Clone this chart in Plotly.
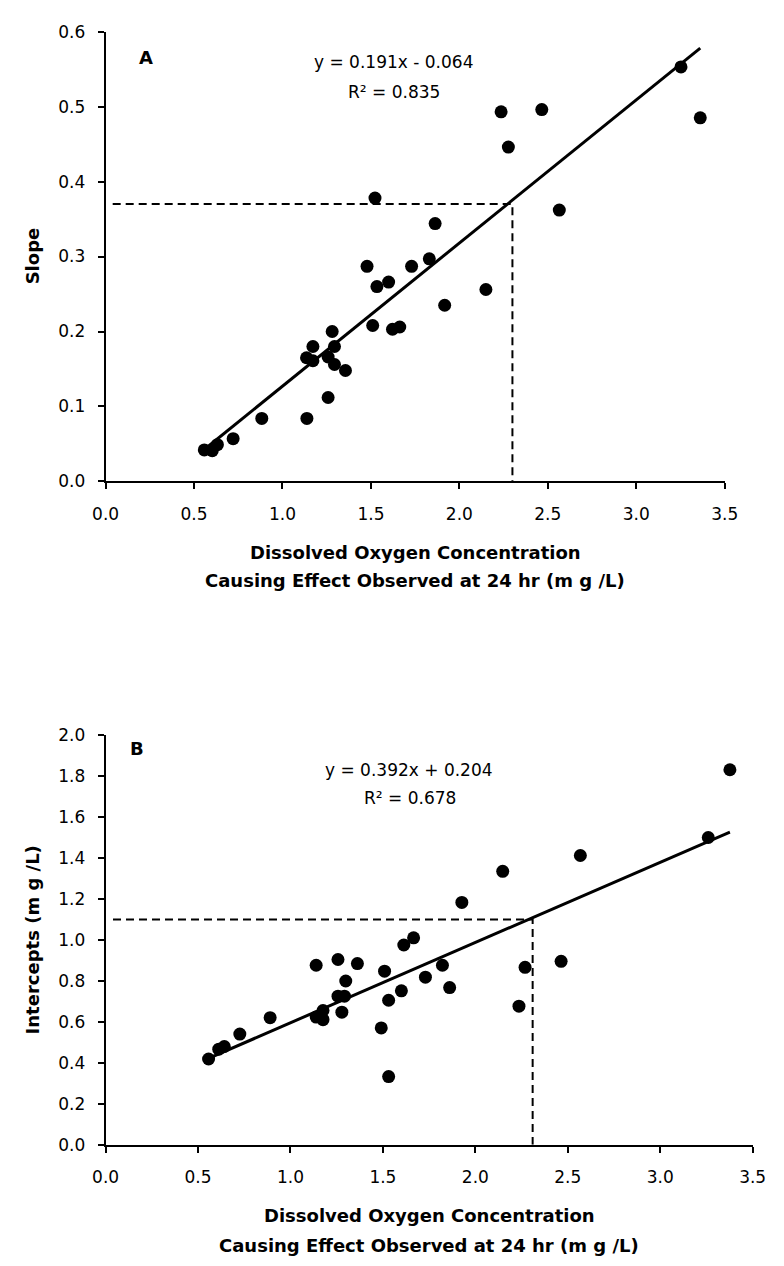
import plotly.graph_objects as go

# ---------------- Data ----------------
# Panel A: slope vs dissolved oxygen concentration
a_do = [0.558, 0.603, 0.632, 0.721, 0.883, 1.138, 1.258, 1.136, 1.172, 1.172, 1.258,
        1.281, 1.294, 1.294, 1.356, 1.478, 1.534, 1.600, 1.510, 1.622, 1.663, 1.730,
        1.830, 1.917, 2.150, 1.863, 2.236, 2.466, 2.277, 2.565, 3.253, 3.362, 1.523]
a_slope = [0.042, 0.041, 0.049, 0.057, 0.084, 0.084, 0.112, 0.165, 0.161, 0.180, 0.166,
           0.200, 0.180, 0.156, 0.148, 0.287, 0.260, 0.266, 0.208, 0.203, 0.206, 0.287,
           0.297, 0.235, 0.256, 0.344, 0.493, 0.496, 0.446, 0.362, 0.553, 0.485, 0.378]
a_fit = (0.191, -0.064)          # slope, intercept of regression
a_r2 = 0.835
a_ref = (2.30, 0.370)            # dashed reference point

# Panel B: intercepts vs dissolved oxygen concentration
b_do = [0.557, 0.612, 0.642, 0.726, 0.890, 1.139, 1.139, 1.176, 1.176, 1.257, 1.257,
        1.292, 1.278, 1.299, 1.362, 1.491, 1.509, 1.531, 1.531, 1.600, 1.613, 1.666,
        1.730, 1.822, 1.861, 1.927, 2.148, 2.269, 2.236, 2.464, 2.568, 3.260, 3.377]
b_int = [0.419, 0.467, 0.480, 0.541, 0.621, 0.624, 0.877, 0.656, 0.611, 0.905, 0.726,
         0.726, 0.648, 0.800, 0.885, 0.571, 0.848, 0.706, 0.333, 0.752, 0.976, 1.011,
         0.819, 0.877, 0.768, 1.184, 1.336, 0.867, 0.677, 0.896, 1.413, 1.501, 1.832]
b_fit = (0.392, 0.204)
b_r2 = 0.678
b_ref = (2.31, 1.10)

x_ticks = [0.0, 0.5, 1.0, 1.5, 2.0, 2.5, 3.0, 3.5]
a_yticks = [0.0, 0.1, 0.2, 0.3, 0.4, 0.5, 0.6]
b_yticks = [0.0, 0.2, 0.4, 0.6, 0.8, 1.0, 1.2, 1.4, 1.6, 1.8, 2.0]

x_title_1 = "Dissolved Oxygen Concentration"
x_title_2 = "Causing Effect Observed at 24 hr (m g /L)"
a_ytitle = "Slope"
b_ytitle = "Intercepts (m g /L)"

# ---------------- Figure ----------------
W, H = 784, 1266
FONT = "DejaVu Sans"
fig = go.Figure()


def add_panel(xs, ys, fit, ref, xa, ya):
    xref = "x" if xa == 1 else f"x{xa}"
    yref = "y" if ya == 1 else f"y{ya}"
    fig.add_trace(go.Scatter(x=xs, y=ys, mode="markers", xaxis=xref, yaxis=yref,
                             marker=dict(color="black", size=13), showlegend=False))
    lx = [min(xs), max(xs)]
    ly = [fit[0] * v + fit[1] for v in lx]
    fig.add_trace(go.Scatter(x=lx, y=ly, mode="lines", xaxis=xref, yaxis=yref,
                             line=dict(color="black", width=3), showlegend=False))
    # dashed reference lines
    fig.add_trace(go.Scatter(x=[0.04, ref[0], ref[0]], y=[ref[1], ref[1], 0],
                             mode="lines", xaxis=xref, yaxis=yref,
                             line=dict(color="black", width=2, dash="8px,5px"),
                             showlegend=False))


add_panel(a_do, a_slope, a_fit, a_ref, 1, 1)
add_panel(b_do, b_int, b_fit, b_ref, 2, 2)

# plot-area pixel boxes
A_box = (95, 737, 22, 479)     # left, right, top, bottom
B_box = (95, 766, 737, 1153)


def dom_x(box):
    return [box[0] / W, box[1] / W]


def dom_y(box):
    return [1 - box[3] / H, 1 - box[2] / H]


axis_common = dict(showline=True, linecolor="black", linewidth=2, ticks="outside",
                   tickcolor="black", tickwidth=2, ticklen=6, showgrid=False,
                   zeroline=False, tickfont=dict(family=FONT, size=17, color="black"),
                   tickformat=".1f")

fig.update_layout(
    width=W, height=H, margin=dict(l=0, r=0, t=0, b=0),
    paper_bgcolor="white", plot_bgcolor="white",
    font=dict(family=FONT, color="black"),
    xaxis=dict(domain=dom_x(A_box), range=[0, 3.5], tickvals=x_ticks, anchor="y",
               ticklabelstandoff=10, **axis_common),
    yaxis=dict(domain=dom_y(A_box), range=[0, 0.6], tickvals=a_yticks, anchor="x",
               ticklabelstandoff=9, **axis_common),
    xaxis2=dict(domain=dom_x(B_box), range=[0, 3.5], tickvals=x_ticks, anchor="y2",
                ticklabelstandoff=10, **axis_common),
    yaxis2=dict(domain=dom_y(B_box), range=[0, 2.0], tickvals=b_yticks, anchor="x2",
                ticklabelstandoff=9, **axis_common),
)

ann = []
bold = dict(family=FONT, size=18, color="black", weight="bold")
reg = dict(family=FONT, size=17, color="black")

# panel letters and equations (data coords)
ann.append(dict(xref="x", yref="y", x=0.229, y=0.566, text="A", showarrow=False, font=bold))
ann.append(dict(xref="x", yref="y", x=1.628, y=0.559,
                text=f"y = {a_fit[0]:.3f}x - {abs(a_fit[1]):.3f}", showarrow=False, font=reg))
ann.append(dict(xref="x", yref="y", x=1.630, y=0.520,
                text=f"R² = {a_r2:.3f}", showarrow=False, font=reg))
ann.append(dict(xref="x2", yref="y2", x=0.172, y=1.936, text="B", showarrow=False, font=bold))
ann.append(dict(xref="x2", yref="y2", x=1.641, y=1.832,
                text=f"y = {b_fit[0]:.3f}x + {b_fit[1]:.3f}", showarrow=False, font=reg))
ann.append(dict(xref="x2", yref="y2", x=1.648, y=1.696,
                text=f"R² = {b_r2:.3f}", showarrow=False, font=reg))


# axis titles (paper coords from pixel positions)
def px(xp):
    return xp / W


def py(yp):
    return 1 - yp / H


for cx, y1, y2 in [((A_box[0] + A_box[1]) / 2, 551, 580), ((B_box[0] + B_box[1]) / 2, 1225, 1255)]:
    ann.append(dict(xref="paper", yref="paper", x=px(cx), y=py(y1), text=x_title_1,
                    showarrow=False, font=bold, xanchor="center", yanchor="middle"))
    ann.append(dict(xref="paper", yref="paper", x=px(cx), y=py(y2), text=x_title_2,
                    showarrow=False, font=bold, xanchor="center", yanchor="middle"))

ann.append(dict(xref="paper", yref="paper", x=px(19), y=py(250), text=a_ytitle,
                textangle=-90, showarrow=False, font=bold, xanchor="center", yanchor="middle"))
ann.append(dict(xref="paper", yref="paper", x=px(19), y=py(945), text=b_ytitle,
                textangle=-90, showarrow=False, font=bold, xanchor="center", yanchor="middle"))

fig.update_layout(annotations=ann)
fig.write_html("out.html")
